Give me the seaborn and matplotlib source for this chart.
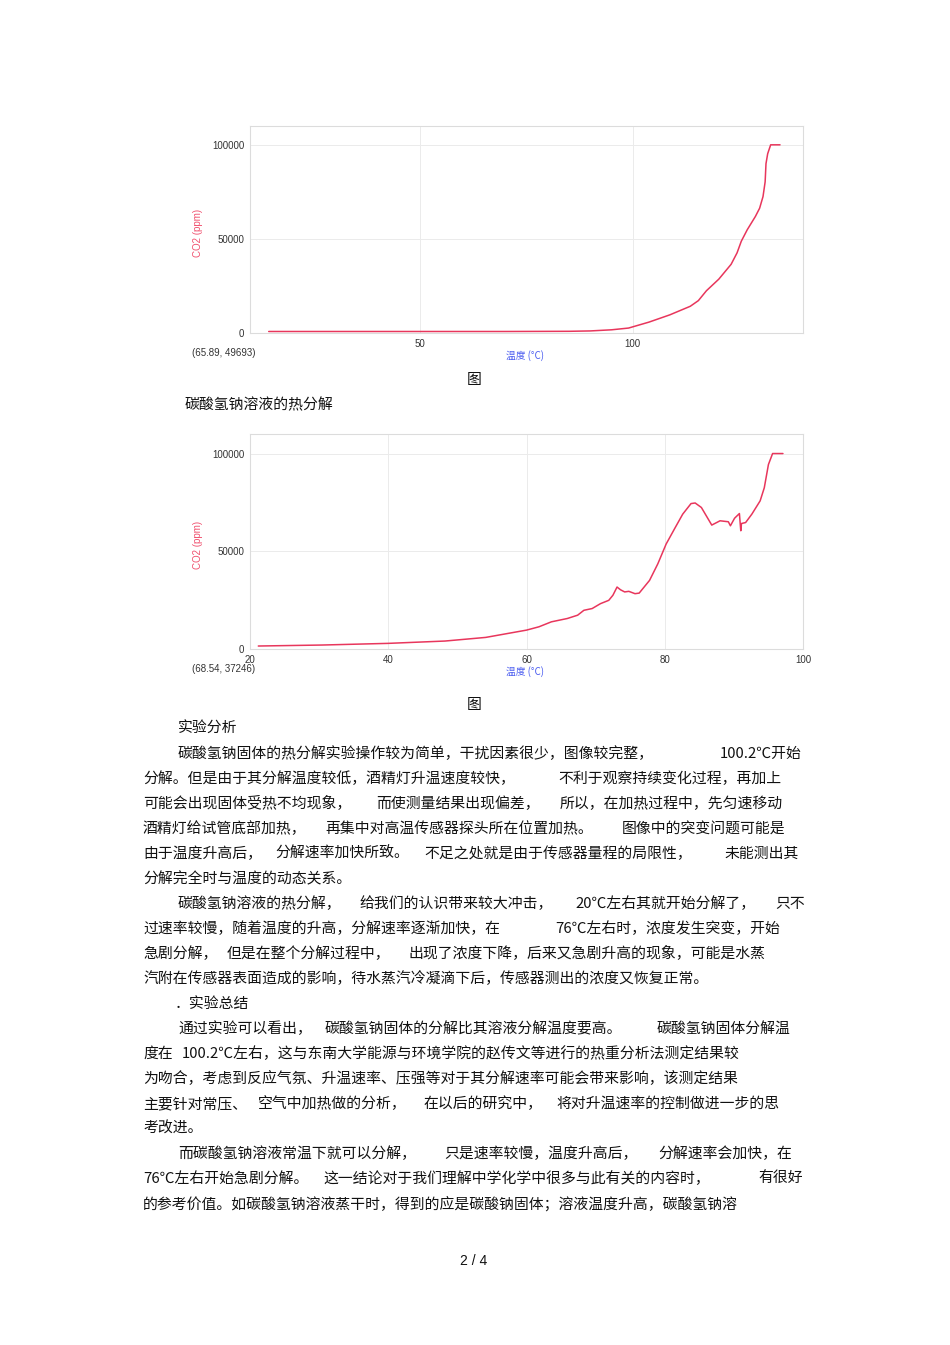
#!/usr/bin/env python3
import pandas as pd
import numpy as np
from matplotlib import pyplot as plt
from matplotlib.ticker import MultipleLocator
import seaborn as sns

# solid NaHCO3 (fig 1)
temp_solid = [14.4, 30, 50, 70, 85, 90, 95, 99.0, 103.8, 108.7, 113.5, 115.4, 117.3,
              120.2, 123.1, 124.5, 125.5, 126.9, 128.8, 129.8, 130.6, 131.1, 131.3,
              131.7, 132.4, 134.6]
co2_solid = [800, 800, 800, 800, 900, 1100, 1700, 2630, 5790, 9650, 14200, 17200, 22460,
             28600, 36500, 42600, 48800, 54900, 61900, 66300, 72500, 80350, 90000,
             95300, 100000, 100000]

# NaHCO3 solution (fig 2)
temp_sol = [21.2, 30.4, 40.0, 48.2, 54.1, 60.0, 61.8, 63.6, 65.9, 67.4, 68.3, 69.5, 70.7,
            71.9, 72.5, 73.1, 73.6, 74.2, 74.8, 75.7, 76.3, 77.8, 79.0, 80.2, 81.4, 82.6,
            83.8, 84.4, 85.3, 86.8, 88.0, 89.2, 89.5, 90.1, 90.8, 91.0, 91.1, 91.7, 92.6,
            93.8, 94.4, 95.0, 95.6, 97.1]
co2_sol = [1525, 2030, 2880, 4070, 5930, 9660, 11360, 13900, 15600, 17300, 19800, 20700,
           23200, 24900, 27500, 31700, 30300, 29200, 29500, 28300, 28600, 35100, 43600,
           53700, 61400, 69000, 74400, 74700, 72400, 63400, 65600, 65100, 63050, 66900,
           69300, 60500, 64200, 64700, 69000, 75800, 82500, 94400, 100000, 100000]

W, H = 950, 1345
LINE = '#e8365c'
CJK = ['Noto Sans CJK SC', 'DejaVu Sans']
LAT = ['Liberation Sans', 'DejaVu Sans']

sns.set_style('white')
plt.rcParams['font.family'] = CJK

fig = plt.figure(figsize=(W / 100, H / 100), dpi=100)


def px(x, y):
    return x / W, 1 - y / H


def chart(box, t, c, xlim, xmajor, coord_text):
    left, top, right, bottom = box
    aw, ah = right - left, bottom - top
    ax = fig.add_axes([left / W, 1 - bottom / H, aw / W, ah / H])
    df = pd.DataFrame({'温度 (°C)': t, 'CO2 (ppm)': c})
    sns.lineplot(data=df, x='温度 (°C)', y='CO2 (ppm)', ax=ax, color=LINE, lw=1.1,
                 sort=False, estimator=None)
    ax.set_xlim(*xlim)
    ax.set_ylim(0, 110000)
    ax.xaxis.set_major_locator(MultipleLocator(xmajor))
    ax.xaxis.set_minor_locator(MultipleLocator(10))
    ax.yaxis.set_major_locator(MultipleLocator(50000))
    ax.yaxis.set_minor_locator(MultipleLocator(10000))
    ax.grid(True, which='major', color='#ebebeb', lw=0.7)
    for s in ax.spines.values():
        s.set_color('#dcdcdc')
        s.set_linewidth(0.8)
    ax.tick_params(which='major', length=2.5, width=0.6, color='#cccccc', pad=1.5,
                   labelsize=7, labelcolor='#333333')
    ax.tick_params(which='minor', length=2.5, width=0.6, color='#cccccc')
    for lab in ax.get_xticklabels() + ax.get_yticklabels():
        lab.set_fontfamily(LAT)
    ax.set_xlabel('温度 (°C)', fontsize=7, color='#4a5cf0', family=CJK)
    ax.set_ylabel('CO2 (ppm)', fontsize=7, color='#f0506e', family=LAT)
    ax.xaxis.set_label_coords((525 - left) / aw, -17 / ah)
    ax.yaxis.set_label_coords((203 - left) / aw, 0.483)
    fig.text(*px(192, bottom + 20), coord_text, fontsize=7, color='#333333',
             family=LAT, ha='left', va='center')
    return ax


chart((250, 126, 803, 333), temp_solid, co2_solid, (10, 140), 50, '(65.89, 49693)')
chart((250, 434, 803, 649), temp_sol, co2_sol, (20, 100), 20, '(68.54, 37246)')

FS = 10.7
segments = [
    (474, 378, '图', 'center'),
    (185, 403, '碳酸氢钠溶液的热分解', 'left'),
    (474, 703, '图', 'center'),
    (178, 727, '实验分析', 'left'),
    (178, 752, '碳酸氢钠固体的热分解实验操作较为简单，干扰因素很少，图像较完整，', 'left'),
    (720, 752, '100.2℃开始', 'left'),
    (143, 777, '分解。但是由于其分解温度较低，酒精灯升温速度较快，', 'left'),
    (558, 777, '不利于观察持续变化过程，再加上', 'left'),
    (143, 802, '可能会出现固体受热不均现象，', 'left'),
    (376, 802, '而使测量结果出现偏差，', 'left'),
    (560, 802, '所以，在加热过程中，先匀速移动', 'left'),
    (143, 827, '酒精灯给试管底部加热，', 'left'),
    (325, 827, '再集中对高温传感器探头所在位置加热。', 'left'),
    (622, 827, '图像中的突变问题可能是', 'left'),
    (143, 852, '由于温度升高后，', 'left'),
    (275, 852, '分解速率加快所致。', 'left'),
    (424, 852, '不足之处就是由于传感器量程的局限性，', 'left'),
    (724, 852, '未能测出其', 'left'),
    (143, 877, '分解完全时与温度的动态关系。', 'left'),
    (178, 902, '碳酸氢钠溶液的热分解，', 'left'),
    (359, 902, '给我们的认识带来较大冲击，', 'left'),
    (575, 902, '20℃左右其就开始分解了，', 'left'),
    (775, 902, '只不', 'left'),
    (143, 927, '过速率较慢，随着温度的升高，分解速率逐渐加快，在', 'left'),
    (555, 927, '76℃左右时，浓度发生突变，开始', 'left'),
    (143, 952, '急剧分解，', 'left'),
    (227, 952, '但是在整个分解过程中，', 'left'),
    (408, 952, '出现了浓度下降，后来又急剧升高的现象，可能是水蒸', 'left'),
    (143, 977, '汽附在传感器表面造成的影响，待水蒸汽冷凝滴下后，传感器测出的浓度又恢复正常。', 'left'),
    (175, 1002, '．实验总结', 'left'),
    (178, 1027, '通过实验可以看出，', 'left'),
    (325, 1027, '碳酸氢钠固体的分解比其溶液分解温度要高。', 'left'),
    (657, 1027, '碳酸氢钠固体分解温', 'left'),
    (143, 1052, '度在', 'left'),
    (182, 1052, '100.2℃左右，这与东南大学能源与环境学院的赵传文等进行的热重分析法测定结果较', 'left'),
    (143, 1077, '为吻合，考虑到反应气氛、升温速率、压强等对于其分解速率可能会带来影响，该测定结果', 'left'),
    (143, 1102, '主要针对常压、', 'left'),
    (258, 1102, '空气中加热做的分析，', 'left'),
    (424, 1102, '在以后的研究中，', 'left'),
    (556, 1102, '将对升温速率的控制做进一步的思', 'left'),
    (143, 1127, '考改进。', 'left'),
    (178, 1152, '而碳酸氢钠溶液常温下就可以分解，', 'left'),
    (444, 1152, '只是速率较慢，温度升高后，', 'left'),
    (658, 1152, '分解速率会加快，在', 'left'),
    (143, 1177, '76℃左右开始急剧分解。', 'left'),
    (323, 1177, '这一结论对于我们理解中学化学中很多与此有关的内容时，', 'left'),
    (758, 1177, '有很好', 'left'),
    (143, 1202, '的参考价值。如碳酸氢钠溶液蒸干时，得到的应是碳酸钠固体；溶液温度升高，碳酸氢钠溶', 'left'),
]
for x, y, s, ha in segments:
    # Noto CJK sits a little high with va='center'
    fig.text(*px(x, y + 2), s, fontsize=FS, color='#111111', ha=ha, va='center', family=CJK)

fig.text(*px(474, 1261), '2 / 4', fontsize=10, color='#111111', ha='center', va='center',
         family=LAT)

fig.savefig('out.png', dpi=100)
